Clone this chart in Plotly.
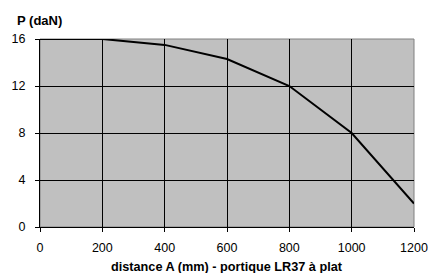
import plotly.graph_objects as go

distance_mm = [0, 200, 400, 600, 800, 1000, 1200]
force_daN = [16, 16, 15.5, 14.3, 12.0, 8.0, 2.0]
y_ticks = [0, 4, 8, 12, 16]
x_ticks = [0, 200, 400, 600, 800, 1000, 1200]

FONT = "Liberation Sans, Arial, sans-serif"

fig = go.Figure()
fig.add_trace(go.Scatter(
    x=distance_mm, y=force_daN, mode="lines",
    line=dict(color="black", width=2), hoverinfo="skip", showlegend=False,
))

fig.update_layout(
    width=428, height=265,
    margin=dict(l=32, r=22, t=31, b=46, autoexpand=False),
    paper_bgcolor="white", plot_bgcolor="#C0C0C0",
    font=dict(family=FONT, size=12.5, color="black"),
    xaxis=dict(
        range=[0, 1200], tickvals=x_ticks, ticktext=[str(v) for v in x_ticks],
        showgrid=True, gridcolor="#000000", gridwidth=1,
        showline=True, linecolor="black", linewidth=1,
        ticks="outside", ticklen=4, tickcolor="black",
        zeroline=False, fixedrange=True, automargin=False,
        ticklabelstandoff=5, tickfont=dict(size=12.5),
    ),
    yaxis=dict(
        range=[0, 16], tickvals=y_ticks,
        showgrid=True, gridcolor="#000000", gridwidth=1,
        showline=True, linecolor="black", linewidth=1,
        ticks="outside", ticklen=4, tickcolor="black",
        zeroline=False, fixedrange=True, automargin=False,
        ticklabelstandoff=7, tickfont=dict(size=12.5),
    ),
    shapes=[dict(type="rect", xref="paper", yref="paper", x0=0, x1=1, y0=0, y1=1,
                 line=dict(color="#808080", width=1), layer="below")],
    annotations=[
        dict(text="<b>P (daN)</b>", xref="paper", yref="paper",
             x=0, xshift=-25, y=1.0, yshift=9, xanchor="left", yanchor="bottom",
             showarrow=False, font=dict(family=FONT, size=13)),
        dict(text="<b>distance A (mm) - portique LR37 à plat</b>", xref="paper", yref="paper",
             x=0.5, y=0, yshift=-31, xanchor="center", yanchor="top",
             showarrow=False, font=dict(family=FONT, size=12.7)),
    ],
)

fig.write_html("out.html")
